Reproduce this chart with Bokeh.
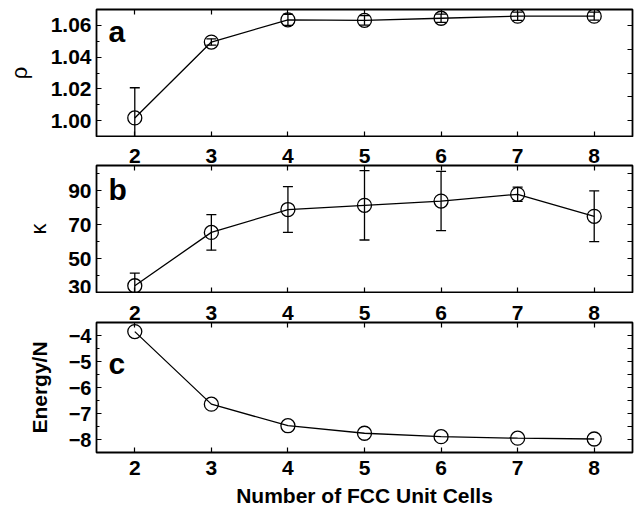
from bokeh.plotting import figure
from bokeh.layouts import column
from bokeh.models import (LinearAxis, FixedTicker, Label, Range1d, ColumnDataSource,
                          CustomJSTickFormatter, AllLabels)
from bokeh.embed import file_html
from bokeh.resources import INLINE

# ---- data ----
cells = [2, 3, 4, 5, 6, 7, 8]
rho = [1.0017, 1.0495, 1.0635, 1.0632, 1.0645, 1.0658, 1.0658]
rho_err = [0.019, 0.002, 0.0035, 0.003, 0.0026, 0.0026, 0.0025]
kappa = [34.0, 65.5, 79.0, 81.5, 84.0, 88.0, 75.0]
kappa_err = [7.5, 10.5, 13.5, 20.5, 17.5, 4.2, 15.0]
energy = [-3.85, -6.64, -7.47, -7.76, -7.89, -7.95, -7.98]

x_ticks = [2, 3, 4, 5, 6, 7, 8]
rho_ticks = [1.00, 1.02, 1.04, 1.06]
rho_minor = [0.99, 1.01, 1.03, 1.05, 1.07]
rho_right_ticks = [1.00, 1.015, 1.03, 1.045, 1.06]
kappa_ticks = [30, 50, 70, 90]
kappa_minor = [40, 60, 80, 100]
kappa_right_ticks = [30, 40, 50, 60, 70, 80, 90, 100]
energy_ticks = [-8.0, -7.0, -6.0, -5.0, -4.0]
energy_minor = [-8.5, -7.5, -6.5, -5.5, -4.5, -3.5]
energy_right_ticks = [-8, -7.5, -7, -6.5, -6, -5.5, -5, -4.5, -4]

FONT = "Liberation Sans"
TICK_FS = "21px"
LW = 1.3


def style_axis(ax, standoff=5, labelled=True, fs=TICK_FS):
    if labelled:
        ax.major_label_text_font = FONT
        ax.major_label_text_font_style = "bold"
        ax.major_label_text_font_size = fs
        ax.major_label_text_color = "black"
        ax.major_label_standoff = standoff
        ax.major_label_policy = AllLabels()
    else:
        ax.formatter = CustomJSTickFormatter(code="return '';")
        ax.major_label_text_font_size = "1px"
        ax.major_label_standoff = 0
    ax.major_tick_in = 5
    ax.major_tick_out = 0
    ax.minor_tick_in = 3
    ax.minor_tick_out = 0
    ax.axis_line_color = None
    ax.major_tick_line_width = 1.2
    ax.minor_tick_line_width = 1.2
    ax.axis_label_text_color = "black"
    return ax


def fixed_axis(ticks, minor=None, standoff=5, labelled=True, formatter=None, fs=TICK_FS):
    ax = LinearAxis(ticker=FixedTicker(ticks=ticks, minor_ticks=minor or []))
    if formatter is not None:
        ax.formatter = formatter
    return style_axis(ax, standoff, labelled, fs)


def make_fig(y0, y1, frame_h, top, bottom):
    p = figure(width=635, height=top + frame_h + bottom, frame_width=536, frame_height=frame_h,
               x_range=Range1d(1.5, 8.5), y_range=Range1d(y0, y1),
               output_backend="svg", toolbar_location=None,
               x_axis_location=None, y_axis_location=None,
               min_border_left=96, min_border_right=3,
               min_border_top=top, min_border_bottom=bottom)
    p.xgrid.visible = False
    p.ygrid.visible = False
    p.outline_line_color = "black"
    p.outline_line_width = 1.8
    p.background_fill_color = "white"
    p.border_fill_color = "white"
    return p


def add_series(p, xs, ys, errs=None):
    p.line(xs, ys, line_color="black", line_width=LW)
    if errs is not None:
        lo = [y - e for y, e in zip(ys, errs)]
        hi = [y + e for y, e in zip(ys, errs)]
        src = ColumnDataSource(dict(x=xs, lo=lo, hi=hi))
        p.segment(x0="x", y0="lo", x1="x", y1="hi", source=src, line_color="black", line_width=LW)
        p.scatter(x="x", y="lo", source=src, marker="dash", size=10, line_color="black", line_width=LW)
        p.scatter(x="x", y="hi", source=src, marker="dash", size=10, line_color="black", line_width=LW)
    p.scatter(xs, ys, marker="circle", size=14, fill_color=None, line_color="black", line_width=LW)


def panel_letter(p, txt, y):
    p.add_layout(Label(x=12, y=y, x_units="screen", y_units="screen", text=txt,
                       text_font=FONT, text_font_style="bold", text_font_size="30px",
                       text_baseline="alphabetic", text_color="black"))


# ---- panel a ----
pa = make_fig(0.99, 1.07, 127, 9, 1)
pa.add_layout(fixed_axis(x_ticks, labelled=False), "above")
pa.add_layout(fixed_axis(x_ticks, labelled=False), "below")
la = fixed_axis(rho_ticks, rho_minor, formatter=CustomJSTickFormatter(code="return tick.toFixed(2);"))
la.axis_label = "\u03c1"
la.axis_label_text_font = FONT
la.axis_label_text_font_style = "normal"
la.axis_label_text_font_size = "22px"
la.axis_label_standoff = 16
pa.add_layout(la, "left")
pa.add_layout(fixed_axis(rho_right_ticks, labelled=False), "right")
add_series(pa, cells, rho, rho_err)
panel_letter(pa, "a", 105)

# ---- panel b ----
pb = make_fig(30, 105, 127, 28, 1)
pb.add_layout(fixed_axis(x_ticks, standoff=3), "above")
pb.add_layout(fixed_axis(x_ticks, labelled=False), "below")
lb = fixed_axis(kappa_ticks, kappa_minor)
lb.axis_label = "\u03ba"
lb.axis_label_text_font = FONT
lb.axis_label_text_font_style = "normal"
lb.axis_label_text_font_size = "22px"
lb.axis_label_standoff = 14
pb.add_layout(lb, "left")
pb.add_layout(fixed_axis(kappa_right_ticks, labelled=False), "right")
add_series(pb, cells, kappa, kappa_err)
panel_letter(pb, "b", 103)

# ---- panel c ----
pc = make_fig(-8.5, -3.5, 130, 29, 57)
pc.add_layout(fixed_axis(x_ticks, standoff=3), "above")
bc = fixed_axis(x_ticks, standoff=8)
bc.axis_label = "Number of FCC Unit Cells"
bc.axis_label_text_font = FONT
bc.axis_label_text_font_style = "bold"
bc.axis_label_text_font_size = "21px"
bc.axis_label_standoff = 6
pc.add_layout(bc, "below")
lc = fixed_axis(energy_ticks, energy_minor, fs="20px",
                formatter=CustomJSTickFormatter(code="return tick < 0 ? '\u2212' + Math.abs(tick).toFixed(0) : String(tick);"))
lc.axis_label = "Energy/N"
lc.axis_label_text_font = FONT
lc.axis_label_text_font_style = "bold"
lc.axis_label_text_font_size = "21px"
lc.axis_label_standoff = 15
pc.add_layout(lc, "left")
pc.add_layout(fixed_axis(energy_right_ticks, labelled=False), "right")
add_series(pc, cells, energy)
panel_letter(pc, "c", 89)

layout = column(pa, pb, pc, spacing=0)
open("out.html", "w").write(file_html(layout, INLINE))
